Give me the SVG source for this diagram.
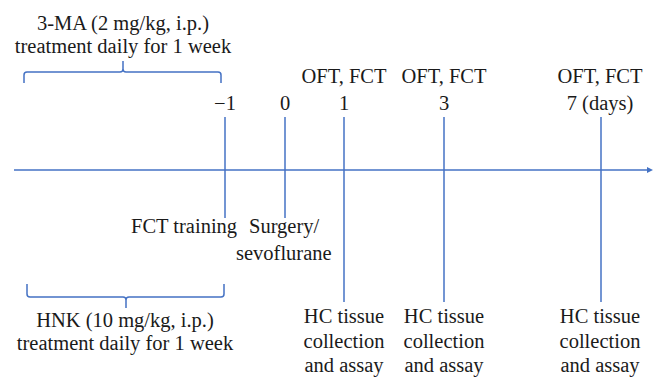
<svg xmlns="http://www.w3.org/2000/svg" width="653" height="378" viewBox="0 0 653 378">
<style>
text{font-family:"Liberation Serif","DejaVu Serif","Times New Roman",serif;font-size:20.5px;fill:#1a1a1a}
.m{text-anchor:middle}
.ln{stroke:#4472C4;stroke-width:1.5;fill:none}
</style>
<defs>
<marker id="ah" markerWidth="6" markerHeight="6" refX="3" refY="3" orient="auto" markerUnits="userSpaceOnUse">
<path d="M0,0 L6,3 L0,6 Z" fill="#4472C4"/>
</marker>
</defs>
<rect width="653" height="378" fill="#fff"/>
<g id="connectors">
<line class="ln" x1="14" y1="170" x2="650" y2="170" marker-end="url(#ah)"/>
<line class="ln" x1="225" y1="117" x2="225" y2="218"/>
<line class="ln" x1="285" y1="117" x2="285" y2="218"/>
<line class="ln" x1="344" y1="117" x2="344" y2="302"/>
<line class="ln" x1="444" y1="117" x2="444" y2="302"/>
<line class="ln" x1="601" y1="117" x2="601" y2="302"/>
</g>
<g id="brace-top">
<path class="ln" d="M24,83 V75 Q24,72 27,72 H120 Q123,72 123,69 V61 M123,69 Q123,72 126,72 H218 Q221,72 221,75 V83"/>
</g>
<g id="brace-bottom">
<path class="ln" d="M27,284 V294 Q27,297 30,297 H123 Q126,297 126,300 V308 M126,300 Q126,297 129,297 H221 Q224,297 224,294 V284"/>
</g>
<g id="top-label">
<text class="m" x="123" y="30">3-MA (2 mg/kg, i.p.)</text>
<text class="m" x="123" y="53">treatment daily for 1 week</text>
</g>
<g id="bottom-label">
<text class="m" x="125" y="327">HNK (10 mg/kg, i.p.)</text>
<text class="m" x="125" y="350">treatment daily for 1 week</text>
</g>
<g id="day-minus1">
<text class="m" x="225" y="110">−1</text>
<text x="131" y="233">FCT training</text>
</g>
<g id="day0">
<text class="m" x="285" y="110">0</text>
<text x="249" y="233">Surgery/</text>
<text x="236" y="260">sevoflurane</text>
</g>
<g id="day1">
<text class="m" x="344" y="83">OFT, FCT</text>
<text class="m" x="344" y="110">1</text>
<text class="m" x="344" y="323">HC tissue</text>
<text class="m" x="344" y="348">collection</text>
<text class="m" x="344" y="372">and assay</text>
</g>
<g id="day3">
<text class="m" x="444" y="83">OFT, FCT</text>
<text class="m" x="444" y="110">3</text>
<text class="m" x="444" y="323">HC tissue</text>
<text class="m" x="444" y="348">collection</text>
<text class="m" x="444" y="372">and assay</text>
</g>
<g id="day7">
<text class="m" x="600" y="83">OFT, FCT</text>
<text class="m" x="600" y="110">7 (days)</text>
<text class="m" x="600" y="323">HC tissue</text>
<text class="m" x="600" y="348">collection</text>
<text class="m" x="600" y="372">and assay</text>
</g>
</svg>
